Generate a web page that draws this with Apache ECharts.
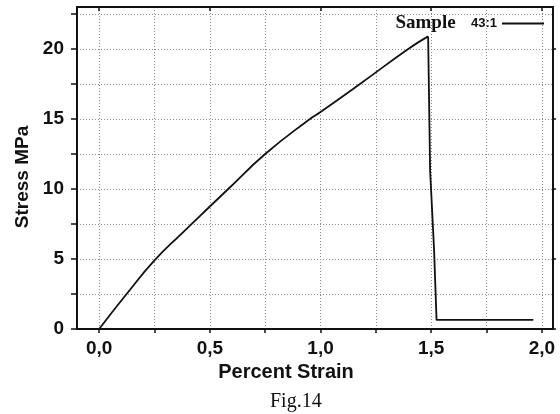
<!DOCTYPE html>
<html>
<head>
<meta charset="utf-8">
<script src="https://cdn.jsdelivr.net/npm/echarts@6/dist/echarts.min.js"></script>
<style>html,body{margin:0;padding:0;background:#fff}#c{width:560px;height:414px}</style>
</head>
<body>
<div id="c"></div>
<script>
var strain = [0, 0.124, 0.25, 0.375, 0.5, 0.583, 0.75, 0.952, 1.0, 1.178, 1.396, 1.486, 1.495, 1.513, 1.524, 1.961];
var stress = [0, 2.5, 4.9, 6.85, 8.75, 10.0, 12.5, 15.0, 15.5, 17.5, 20.0, 20.9, 11.3, 5.6, 0.65, 0.65];
var peakIndex = 11;
var xTicks = [0, 0.25, 0.5, 0.75, 1.0, 1.25, 1.5, 1.75, 2.0];
var xLabels = [0, 0.5, 1.0, 1.5, 2.0];
var yTicks = [0, 2.5, 5, 7.5, 10, 12.5, 15, 17.5, 20, 22.5];
var yLabels = [0, 5, 10, 15, 20];
var seriesName = 'Sample 43:1';
var xTitle = 'Percent Strain';
var yTitle = 'Stress MPa';
var caption = 'Fig.14';

var pts = strain.map(function (s, i) { return [s, stress[i]]; });
var loading = pts.slice(0, peakIndex + 1);
var failure = pts.slice(peakIndex);
var chart = echarts.init(document.getElementById('c'), null, {renderer: 'canvas'});
var grid = {color: '#8a8a8a', type: [1, 2], width: 1};
var lab = {fontFamily: 'Liberation Sans', fontWeight: 'bold', fontSize: 19, color: '#111'};
var lineStyle = {color: '#111', width: 1.8};
chart.setOption({
  animation: false,
  backgroundColor: '#fff',
  grid: {left: 77, right: 7, top: 7, bottom: 85},
  legend: {
    right: 11, top: 9, align: 'right', icon: 'rect', itemWidth: 42, itemHeight: 2,
    data: [seriesName],
    formatter: function () { return '{a|Sample} {b|43:1}'; },
    textStyle: {
      rich: {
        a: {fontFamily: 'Liberation Serif', fontWeight: 'bold', fontSize: 19, color: '#111'},
        b: {fontFamily: 'Liberation Sans', fontWeight: 'bold', fontSize: 13, color: '#111', padding: [0, 0, 0, 12]}
      }
    }
  },
  xAxis: [{
    type: 'value', min: -0.1, max: 2.05, position: 'bottom',
    axisLine: {show: true, onZero: false, lineStyle: {color: '#111', width: 2}},
    axisTick: {show: true, customValues: xTicks, length: 4, lineStyle: {color: '#111', width: 1.5}},
    axisLabel: Object.assign({customValues: xLabels, margin: 10, formatter: function (v) { return v.toFixed(1).replace('.', ','); }}, lab),
    splitLine: {show: true, lineStyle: grid},
    name: xTitle, nameLocation: 'middle', nameGap: 33,
    nameTextStyle: {fontFamily: 'Liberation Sans', fontWeight: 'bold', fontSize: 20, color: '#111', padding: [0, 58, 0, 0]}
  }, {
    type: 'value', min: -0.1, max: 2.05, position: 'top',
    axisLine: {show: true, onZero: false, lineStyle: {color: '#111', width: 2}},
    axisTick: {show: true, inside: true, customValues: xLabels, length: 4, lineStyle: {color: '#111', width: 1.5}},
    axisLabel: {show: false},
    splitLine: {show: false}
  }],
  yAxis: [{
    type: 'value', min: 0, max: 23, position: 'left',
    axisLine: {show: true, onZero: false, lineStyle: {color: '#111', width: 2}},
    axisTick: {show: true, customValues: yTicks, length: 6, lineStyle: {color: '#111', width: 1.5}},
    axisLabel: Object.assign({customValues: yLabels, margin: 13}, lab),
    splitLine: {show: true, lineStyle: grid},
    name: yTitle, nameLocation: 'middle', nameGap: 45,
    nameTextStyle: {fontFamily: 'Liberation Sans', fontWeight: 'bold', fontSize: 19, color: '#111', padding: [0, 18, 0, 0]}
  }, {
    type: 'value', min: 0, max: 23, position: 'right',
    axisLine: {show: true, onZero: false, lineStyle: {color: '#111', width: 2}},
    axisTick: {show: true, customValues: yLabels, length: 3, lineStyle: {color: '#111', width: 1.5}},
    axisLabel: {show: false},
    splitLine: {show: false}
  }],
  graphic: [{
    type: 'text', left: 270, top: 392,
    style: {text: caption, font: '20px "Liberation Serif"', fill: '#111'}
  }],
  series: [{
    name: seriesName, type: 'line', xAxisIndex: 0, yAxisIndex: 0,
    data: loading, showSymbol: false, symbol: 'none', smooth: 0.5,
    lineStyle: lineStyle, itemStyle: {color: '#111'}
  }, {
    name: seriesName, type: 'line', xAxisIndex: 0, yAxisIndex: 0,
    data: failure, showSymbol: false, symbol: 'none',
    lineStyle: lineStyle, itemStyle: {color: '#111'}
  }]
});
</script>
</body>
</html>
